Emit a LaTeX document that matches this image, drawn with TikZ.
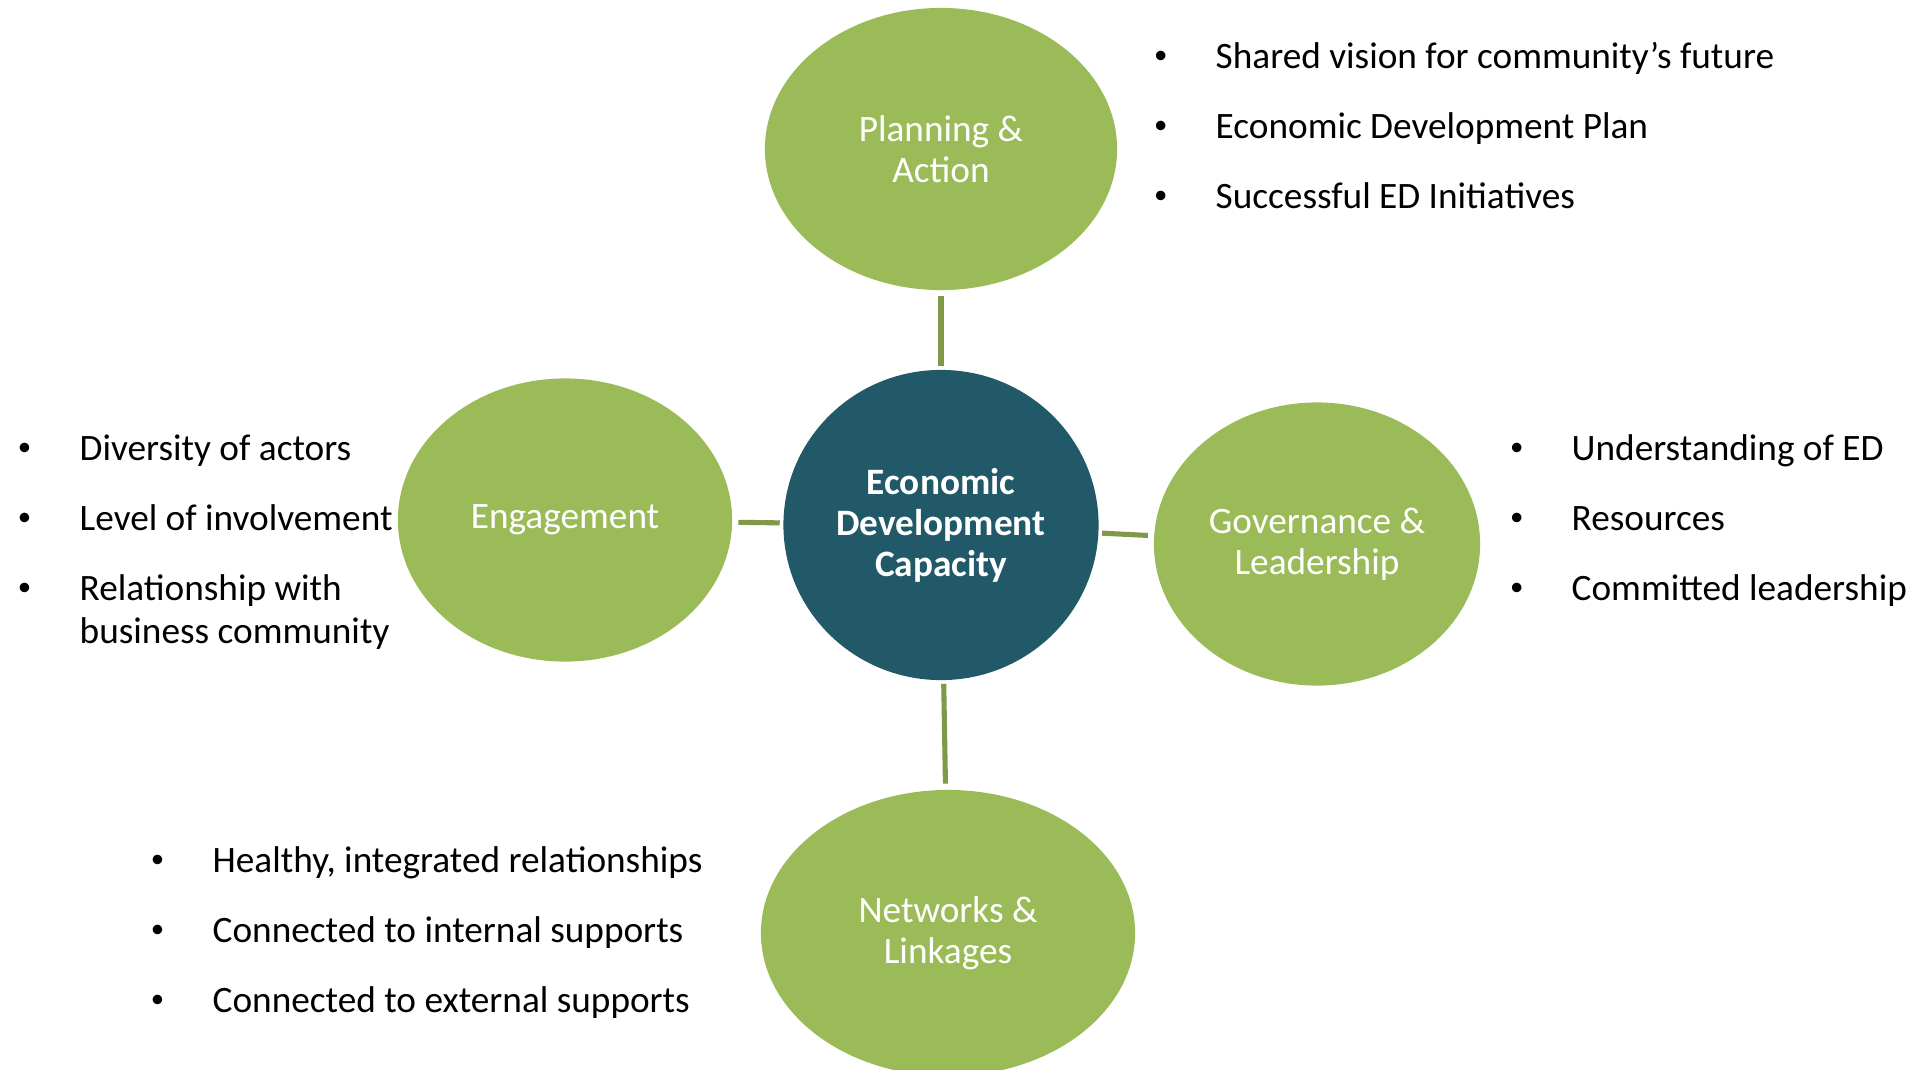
\documentclass[tikz,border=0pt]{standalone}
\usepackage{fontspec}
\setmainfont{Carlito}
\usepackage{tikz}
\usetikzlibrary{shapes,positioning}
\definecolor{petalgreen}{HTML}{9BBB59}
\definecolor{hubteal}{HTML}{215968}
\definecolor{spokegreen}{HTML}{7E9A48}
\tikzstyle{hub}  =[ellipse, fill=hubteal, text=white,
                   font=\fontsize{10.6pt}{11.7pt}\selectfont\bfseries,
                   minimum width=3.15cm, minimum height=3.1cm,
                   inner sep=0pt, align=center]
\tikzstyle{petal}=[ellipse, fill=petalgreen, text=white,
                   font=\fontsize{10.6pt}{11.7pt}\selectfont,
                   inner sep=0pt, align=center]
\tikzstyle{spoke}=[draw=spokegreen, line width=1.45pt,
                   shorten <=0.85pt, shorten >=1.6pt]
\tikzstyle{note} =[anchor=base west, inner sep=0pt, align=left,
                   font=\fontsize{10.6pt}{12.2pt}\selectfont]
\newcommand{\dotitem}{\llap{\makebox[1.1cm]{\raisebox{0.25ex}{\scalebox{0.72}{•}}}}}
\begin{document}
\begin{tikzpicture}[x=0.01cm, y=-0.01cm]
    \useasboundingbox (0,0) rectangle (1915,1069);
    % centre and the four areas
    \node[hub] (edc) at (941,525) {Economic\\Development\\Capacity};
    \node[petal, minimum width=3.52cm, minimum height=2.82cm] (plan) at (941,149) {Planning \&\\Action};
    \node[petal, minimum width=3.34cm, minimum height=2.83cm] (eng) at (565,520) {\raisebox{-1pt}{Engagement}};
    \node[petal, minimum width=3.26cm, minimum height=2.83cm] (gov) at (1317,544) {Governance \&\\Leadership};
    \node[petal, minimum width=3.74cm, minimum height=2.86cm] (net) at (948,933) {Networks \&\\Linkages};
    \draw[spoke] (edc) to (plan);
    \draw[spoke] (edc) to (eng);
    \draw[spoke] (edc) to (gov);
    \draw[spoke] (edc) to (net);
    % planning & action
    \node[note] (plan1) at (1215,68)  {\dotitem Shared vision for community’s future};
    \node[note] (plan2) at (1215,138) {\dotitem Economic Development Plan};
    \node[note] (plan3) at (1215,208) {\dotitem Successful ED Initiatives};
    % engagement
    \node[note] (eng1) at (79,460) {\dotitem Diversity of actors};
    \node[note] (eng2) at (79,530) {\dotitem Level of involvement};
    \node[note] (eng3) at (79,643) {\dotitem Relationship with\\business community};
    % governance & leadership
    \node[note] (gov1) at (1571,460) {\dotitem Understanding of ED};
    \node[note] (gov2) at (1571,530) {\dotitem Resources};
    \node[note] (gov3) at (1571,600) {\dotitem Committed leadership};
    % networks & linkages
    \node[note] (net1) at (212,872)  {\dotitem Healthy, integrated relationships};
    \node[note] (net2) at (212,942)  {\dotitem Connected to internal supports};
    \node[note] (net3) at (212,1012) {\dotitem Connected to external supports};
\end{tikzpicture}
\end{document}
